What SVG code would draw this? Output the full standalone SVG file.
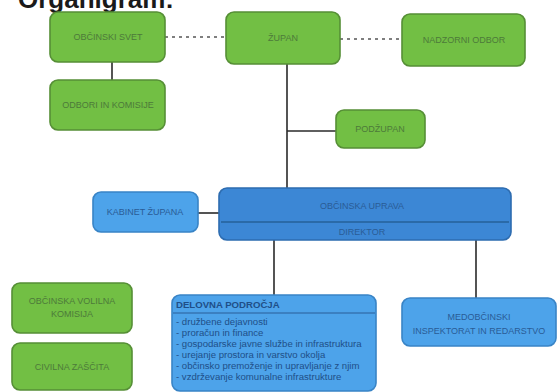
<svg xmlns="http://www.w3.org/2000/svg" width="558" height="392" viewBox="0 0 558 392">
<style>
.g{fill:#72bf44;stroke:#568f36;stroke-width:1.6}
.b{fill:#3c87d5;stroke:#2d6cb0;stroke-width:1.6}
.lb{fill:#4da3ea;stroke:#3984c6;stroke-width:1.6}
.gt{font-family:"Liberation Sans",Arial,sans-serif;font-size:9px;fill:#4d7a3a;text-anchor:middle}
.bt{font-family:"Liberation Sans",Arial,sans-serif;font-size:9px;fill:#2a5c96;text-anchor:middle}
.lt{font-family:"Liberation Sans",Arial,sans-serif;font-size:9.6px;fill:#1f4f88}
.ln{stroke:#2a2a2a;stroke-width:1.6;fill:none}
.dt{stroke:#555;stroke-width:1.6;stroke-dasharray:3 4;fill:none}
</style>
<rect width="558" height="392" fill="#ffffff"/>
<text x="18" y="8" font-family="Liberation Sans,Arial,sans-serif" font-size="26" font-weight="bold" fill="#1a1a1a">Organigram:</text>
<g id="connectors">
<line class="dt" x1="165" y1="37" x2="226" y2="37"/>
<line class="dt" x1="340" y1="39" x2="402" y2="39"/>
<line class="ln" x1="112" y1="62" x2="112" y2="80"/>
<line class="ln" x1="287" y1="64" x2="287" y2="189"/>
<line class="ln" x1="287" y1="131" x2="336" y2="131"/>
<line class="ln" x1="198" y1="213" x2="219" y2="213"/>
<line class="ln" x1="274" y1="240" x2="274" y2="295"/>
<line class="ln" x1="476" y1="240" x2="476" y2="298"/>
</g>
<g id="obcinski-svet"><rect class="g" x="50" y="12" width="115" height="50" rx="8"/><text class="gt" x="108" y="40">OBČINSKI SVET</text></g>
<g id="zupan"><rect class="g" x="226" y="12" width="114" height="52" rx="8"/><text class="gt" x="283" y="41">ŽUPAN</text></g>
<g id="nadzorni-odbor"><rect class="g" x="402" y="14" width="123" height="52" rx="8"/><text class="gt" x="464" y="43">NADZORNI ODBOR</text></g>
<g id="odbori"><rect class="g" x="50" y="80" width="115" height="50" rx="8"/><text class="gt" x="108" y="108">ODBORI IN KOMISIJE</text></g>
<g id="podzupan"><rect class="g" x="336" y="110" width="89" height="38" rx="8"/><text class="gt" x="380" y="132">PODŽUPAN</text></g>
<g id="kabinet"><rect class="lb" x="93" y="192" width="105" height="40" rx="8"/><text class="bt" x="145" y="215">KABINET ŽUPANA</text></g>
<g id="obcinska-uprava"><rect class="b" x="219" y="188" width="292" height="52" rx="8"/><line x1="221" y1="222" x2="509" y2="222" stroke="#2a6aa8" stroke-width="2"/><text class="bt" x="362" y="209">OBČINSKA UPRAVA</text><text class="bt" x="362" y="235">DIREKTOR</text></g>
<g id="volilna"><rect class="g" x="12" y="283" width="120" height="50" rx="8"/><text class="gt" x="72" y="304">OBČINSKA VOLILNA</text><text class="gt" x="72" y="317">KOMISIJA</text></g>
<g id="civilna"><rect class="g" x="12" y="343" width="120" height="47" rx="8"/><text class="gt" x="72" y="370">CIVILNA ZAŠČITA</text></g>
<g id="delovna"><rect class="lb" x="172" y="295" width="204" height="96" rx="8"/><line x1="173" y1="313" x2="375" y2="313" stroke="#2a5e98" stroke-width="1.2"/><text class="lt" x="176" y="308" font-weight="bold">DELOVNA PODROČJA</text>
<text class="lt" x="176" y="325">- družbene dejavnosti</text>
<text class="lt" x="176" y="336">- proračun in finance</text>
<text class="lt" x="176" y="347">- gospodarske javne službe in infrastruktura</text>
<text class="lt" x="176" y="358">- urejanje prostora in varstvo okolja</text>
<text class="lt" x="176" y="369">- občinsko premoženje in upravljanje z njim</text>
<text class="lt" x="176" y="380">- vzdrževanje komunalne infrastrukture</text></g>
<g id="medobcinski"><rect class="lb" x="402" y="298" width="154" height="48" rx="8"/><text class="bt" x="479" y="320">MEDOBČINSKI</text><text class="bt" x="479" y="334">INSPEKTORAT IN REDARSTVO</text></g>
</svg>
